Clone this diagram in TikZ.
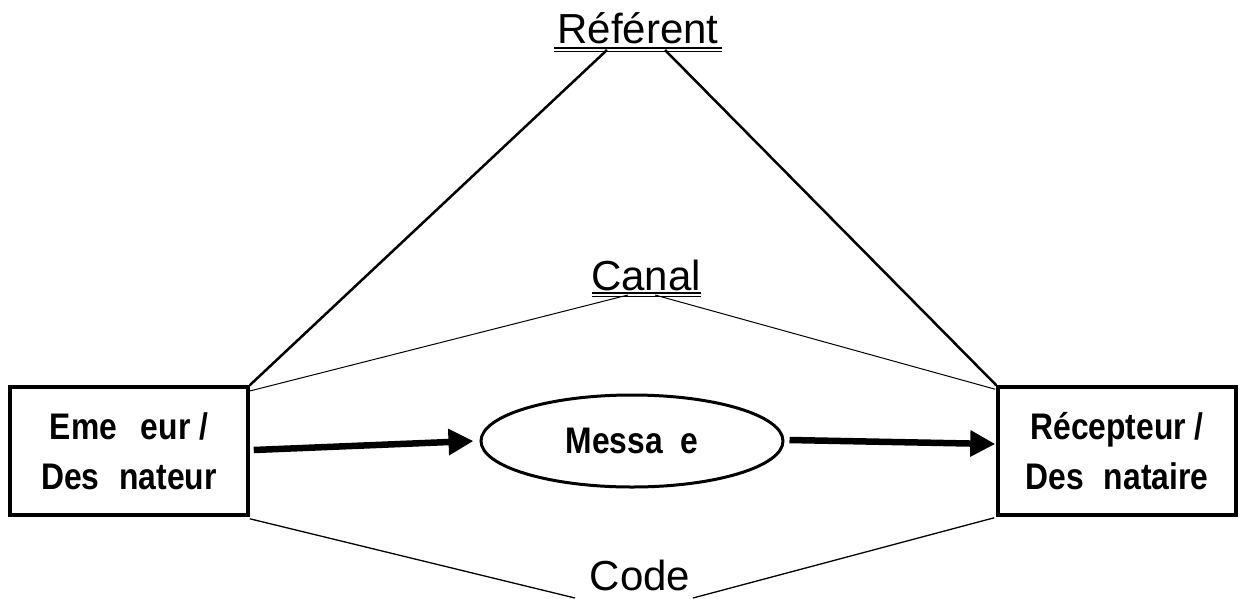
\documentclass[tikz,border=0pt]{standalone}
\usepackage{fontspec}
\setmainfont{Liberation Sans}
\newfontfamily\narrowfont[FakeStretch=0.86]{Liberation Sans}
\usetikzlibrary{shapes.geometric,arrows.meta,calc}
\begin{document}
\begin{tikzpicture}[x=1pt,y=-1pt,
  box/.style={draw,line width=3.5pt,minimum width=238pt,minimum height=128pt,inner sep=0pt,
    align=center,font=\narrowfont\bfseries\fontsize{37}{50}\selectfont},
  msgbox/.style={draw,ellipse,line width=3pt,minimum width=302pt,minimum height=92pt,inner sep=0pt,
    font=\narrowfont\bfseries\fontsize{37}{50}\selectfont},
  lbl/.style={anchor=base,inner sep=0pt,font=\fontsize{42}{50}\selectfont},
  ul/.style={line width=1.8pt},
  thick link/.style={line width=2.5pt},
  thin link/.style={line width=1pt},
  code link/.style={line width=1.3pt},
  flow/.style={line width=6.5pt,-{Triangle[length=25pt,width=25pt]}}]
\useasboundingbox (0,0) rectangle (1240,598);

\node[box] (em) at (129,451) {Eme\hspace{24pt}eur /\\Des\hspace{20pt}nateur};
\node[box] (re) at (1117,451) {R\'ecepteur /\\Des\hspace{20pt}nataire};
\node[msgbox] (msg) at (632,441) {Messa\hspace{18pt}e};

\node[lbl] (ref) at (638,43) {R\'ef\'erent};
\node[lbl] (can) at (646,290) {Canal};
\node[lbl] (code) at (640,590) {Code};

% double underlines
\draw[ul] (554,48) -- (722,48);
\draw[ul] (554,51.5) -- (722,51.5);
\draw[ul] (592,293) -- (701,293);
\draw[ul] (592,296.5) -- (701,296.5);

\coordinate (refL) at (607,50);
\coordinate (refR) at (665,50);
\coordinate (canL) at (628,295);
\coordinate (canR) at (655,295);
\coordinate (codeL) at (575,598);
\coordinate (codeR) at (693,598);

\draw[thick link] (refL) -- (em.north east);
\draw[thick link] (refR) -- (re.north west);
\draw[thin link] (canL) -- ($(em.north east)+(-1,6)$);
\draw[thin link] (canR) -- ($(re.north west)+(-1,4)$);
\draw[code link] ($(em.south east)+(0,2)$) -- (codeL);
\draw[code link] ($(re.south west)+(-2,1)$) -- (codeR);

\draw[flow] ($(em.east)+(4,-1)$) -- ($(msg.west)+(-6,0)$);
\draw[flow] ($(msg.east)+(5,-1)$) -- ($(re.west)+(-1,-7)$);
\end{tikzpicture}
\end{document}
